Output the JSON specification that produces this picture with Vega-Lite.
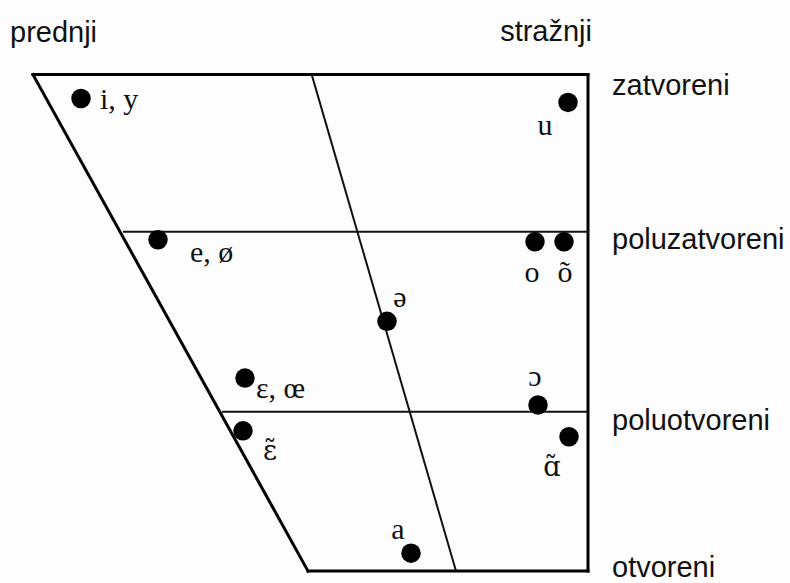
{
  "$schema": "https://vega.github.io/schema/vega-lite/v6.json",
  "width": 790,
  "height": 583,
  "autosize": {"type": "fit", "contains": "padding"},
  "padding": 0,
  "background": "#fdfdfd",
  "config": {"view": {"stroke": null}},
  "datasets": {
    "lines": [
      {"kind": "frame", "x1": 33, "y1": 75, "x2": 588, "y2": 75},
      {"kind": "frame", "x1": 588, "y1": 75, "x2": 588, "y2": 574},
      {"kind": "frame", "x1": 308, "y1": 574, "x2": 588, "y2": 574},
      {"kind": "frame", "x1": 33, "y1": 75, "x2": 308, "y2": 574},
      {"kind": "inner", "x1": 123, "y1": 233, "x2": 588, "y2": 233},
      {"kind": "inner", "x1": 222, "y1": 414, "x2": 588, "y2": 414},
      {"kind": "inner", "x1": 312, "y1": 76, "x2": 456, "y2": 574}
    ],
    "vowels": [
      {"vowel": "i, y", "x": 81, "y": 99},
      {"vowel": "u", "x": 568, "y": 103},
      {"vowel": "e, ø", "x": 158, "y": 241},
      {"vowel": "o", "x": 535, "y": 243},
      {"vowel": "õ", "x": 564, "y": 243},
      {"vowel": "ə", "x": 387, "y": 323},
      {"vowel": "ɛ, œ", "x": 245, "y": 380},
      {"vowel": "ɔ", "x": 538, "y": 407},
      {"vowel": "ɛ̃", "x": 243, "y": 433},
      {"vowel": "ɑ̃", "x": 569, "y": 439},
      {"vowel": "a", "x": 411, "y": 556}
    ],
    "vlabels_left": [
      {"label": "i, y", "x": 100, "y": 110},
      {"label": "e, ø", "x": 190, "y": 263},
      {"label": "ɛ, œ", "x": 256, "y": 400}
    ],
    "vlabels_center": [
      {"label": "u", "x": 545, "y": 136},
      {"label": "o", "x": 532, "y": 283},
      {"label": "õ", "x": 565, "y": 283},
      {"label": "ə", "x": 400, "y": 309},
      {"label": "ɔ", "x": 535, "y": 388},
      {"label": "a", "x": 398, "y": 542}
    ],
    "vlabels_nasal": [
      {"label": "ɛ̃", "x": 270, "y": 462},
      {"label": "ɑ̃", "x": 552, "y": 478}
    ],
    "height_labels": [
      {"label": "zatvoreni", "x": 612, "y": 95},
      {"label": "poluzatvoreni", "x": 612, "y": 250},
      {"label": "poluotvoreni", "x": 612, "y": 432},
      {"label": "otvoreni", "x": 612, "y": 580}
    ],
    "front": [{"label": "prednji", "x": 10, "y": 42}],
    "back": [{"label": "stražnji", "x": 592, "y": 41}]
  },
  "encoding": {
    "x": {"field": "x", "type": "quantitative", "scale": {"domain": [0, 790], "nice": false, "zero": false}, "axis": null},
    "y": {"field": "y", "type": "quantitative", "scale": {"domain": [0, 583], "nice": false, "zero": false, "reverse": true}, "axis": null}
  },
  "layer": [
    {
      "data": {"name": "lines"},
      "transform": [{"filter": "datum.kind == 'frame'"}],
      "mark": {"type": "rule", "color": "#000", "strokeWidth": 3, "strokeCap": "square"},
      "encoding": {
        "x": {"field": "x1", "type": "quantitative"},
        "y": {"field": "y1", "type": "quantitative"},
        "x2": {"field": "x2"},
        "y2": {"field": "y2"}
      }
    },
    {
      "data": {"name": "lines"},
      "transform": [{"filter": "datum.kind == 'inner'"}],
      "mark": {"type": "rule", "color": "#111", "strokeWidth": 2},
      "encoding": {
        "x": {"field": "x1", "type": "quantitative"},
        "y": {"field": "y1", "type": "quantitative"},
        "x2": {"field": "x2"},
        "y2": {"field": "y2"}
      }
    },
    {
      "data": {"name": "vowels"},
      "mark": {"type": "circle", "color": "#000", "opacity": 1, "size": 380}
    },
    {
      "data": {"name": "vlabels_left"},
      "mark": {"type": "text", "font": "Liberation Serif", "fontSize": 30, "align": "left", "baseline": "alphabetic", "color": "#111"},
      "encoding": {"text": {"field": "label"}}
    },
    {
      "data": {"name": "vlabels_center"},
      "mark": {"type": "text", "font": "Liberation Serif", "fontSize": 30, "align": "center", "baseline": "alphabetic", "color": "#111"},
      "encoding": {"text": {"field": "label"}}
    },
    {
      "data": {"name": "vlabels_nasal"},
      "mark": {"type": "text", "font": "DejaVu Serif", "fontSize": 27, "align": "center", "baseline": "alphabetic", "color": "#111"},
      "encoding": {"text": {"field": "label"}}
    },
    {
      "data": {"name": "height_labels"},
      "mark": {"type": "text", "font": "Liberation Sans", "fontSize": 29, "align": "left", "baseline": "alphabetic", "color": "#111"},
      "encoding": {"text": {"field": "label"}}
    },
    {
      "data": {"name": "front"},
      "mark": {"type": "text", "font": "Liberation Sans", "fontSize": 29, "align": "left", "baseline": "alphabetic", "color": "#111"},
      "encoding": {"text": {"field": "label"}}
    },
    {
      "data": {"name": "back"},
      "mark": {"type": "text", "font": "Liberation Sans", "fontSize": 29, "align": "right", "baseline": "alphabetic", "color": "#111"},
      "encoding": {"text": {"field": "label"}}
    }
  ]
}
